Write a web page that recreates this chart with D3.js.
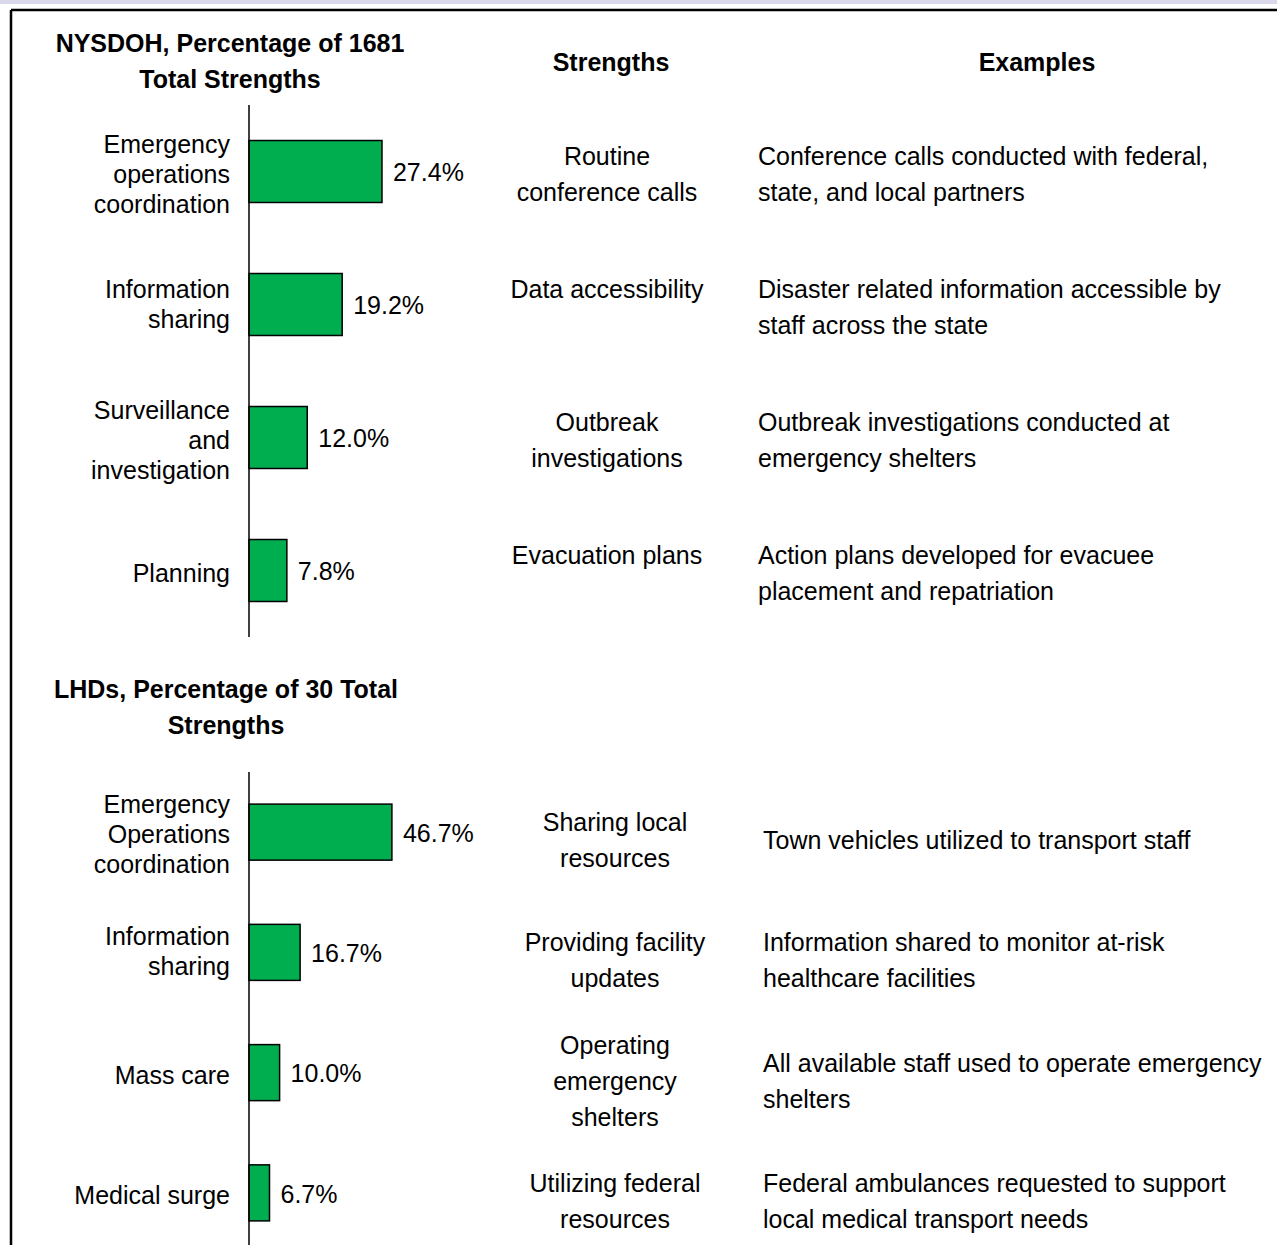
<!DOCTYPE html>
<html>
<head>
<meta charset="utf-8">
<script src="https://cdn.jsdelivr.net/npm/d3@7"></script>
<style>
  body { margin: 0; background: #fff; }
  text { font-family: "Liberation Sans", Arial, Helvetica, sans-serif; fill: #000; }
</style>
</head>
<body>
<div id="chart"></div>
<script>
// NYSDOH panel
var nysTitle = ["NYSDOH, Percentage of 1681", "Total Strengths"];
var nysCategories = ["Emergency\noperations\ncoordination", "Information\nsharing", "Surveillance\nand\ninvestigation", "Planning"];
var nysValues = [27.4, 19.2, 12.0, 7.8];
var nysStrengths = ["Routine\nconference calls", "Data accessibility", "Outbreak\ninvestigations", "Evacuation plans"];
var nysExamples = [
  "Conference calls conducted with federal,\nstate, and local partners",
  "Disaster related information accessible by\nstaff across the state",
  "Outbreak investigations conducted at\nemergency shelters",
  "Action plans developed for evacuee\nplacement and repatriation"
];

// LHD panel
var lhdTitle = ["LHDs, Percentage of 30 Total", "Strengths"];
var lhdCategories = ["Emergency\nOperations\ncoordination", "Information\nsharing", "Mass care", "Medical surge"];
var lhdValues = [46.7, 16.7, 10.0, 6.7];
var lhdStrengths = ["Sharing local\nresources", "Providing facility\nupdates", "Operating\nemergency\nshelters", "Utilizing federal\nresources"];
var lhdExamples = [
  "Town vehicles utilized to transport staff",
  "Information shared to monitor at-risk\nhealthcare facilities",
  "All available staff used to operate emergency\nshelters",
  "Federal ambulances requested to support\nlocal medical transport needs"
];

var columnHeaders = ["Strengths", "Examples"];

var width = 1277, height = 1245;
var axisX = 249;
var fontSize = 25;
var formatPct = function (d) { return d3.format(".1f")(d) + "%"; };

var svg = d3.select("#chart").append("svg")
  .attr("width", width)
  .attr("height", height);

// light band at the very top and the frame
svg.append("rect").attr("x", 0).attr("y", 0).attr("width", width).attr("height", 4)
  .attr("fill", "#d9d8eb");
svg.append("line").attr("x1", 11).attr("x2", width).attr("y1", 10).attr("y2", 10)
  .attr("stroke", "#000").attr("stroke-width", 2.5);
svg.append("line").attr("x1", 11).attr("x2", 11).attr("y1", 10).attr("y2", height)
  .attr("stroke", "#000").attr("stroke-width", 2.5);

// column headers
svg.append("text").attr("x", 611).attr("y", 71)
  .attr("text-anchor", "middle").style("font-size", fontSize + "px").style("font-weight", "bold")
  .text(columnHeaders[0]);
svg.append("text").attr("x", 1037).attr("y", 71)
  .attr("text-anchor", "middle").style("font-size", fontSize + "px").style("font-weight", "bold")
  .text(columnHeaders[1]);

// writes multi-line text, one tspan per line
function multiline(sel, str, x, firstY, step, anchor) {
  var lines = str.split("\n");
  var t = sel.append("text")
    .attr("text-anchor", anchor)
    .style("font-size", fontSize + "px");
  lines.forEach(function (l, i) {
    t.append("tspan").attr("x", x).attr("y", firstY + i * step).text(l);
  });
  return t;
}

function drawPanel(cfg) {
  var g = svg.append("g");

  // title
  cfg.title.forEach(function (l, i) {
    g.append("text")
      .attr("x", cfg.titleX)
      .attr("y", cfg.titleY + i * 36)
      .attr("text-anchor", "middle")
      .style("font-size", fontSize + "px")
      .style("font-weight", "bold")
      .text(l);
  });

  var y = d3.scaleBand()
    .domain(d3.range(cfg.values.length))
    .range(cfg.yRange)
    .paddingInner(0.534)
    .paddingOuter(0.267);

  var x = d3.scaleLinear()
    .domain([0, cfg.xMax])
    .range([axisX, axisX + cfg.xPx]);

  // bars
  g.selectAll(".bar")
    .data(cfg.values)
    .enter().append("rect")
    .attr("class", "bar")
    .attr("x", x(0))
    .attr("y", function (d, i) { return y(i); })
    .attr("width", function (d) { return x(d) - x(0); })
    .attr("height", y.bandwidth())
    .attr("fill", "#00ad4f")
    .attr("stroke", "#000")
    .attr("stroke-width", 1.5);

  // value labels
  g.selectAll(".val")
    .data(cfg.values)
    .enter().append("text")
    .attr("class", "val")
    .attr("x", function (d) { return x(d) + 11; })
    .attr("y", function (d, i) { return y(i) + y.bandwidth() / 2 + 1; })
    .attr("dy", ".35em")
    .style("font-size", fontSize + "px")
    .text(formatPct);

  // axis line (no ticks)
  g.append("line")
    .attr("x1", axisX).attr("x2", axisX)
    .attr("y1", cfg.yRange[0]).attr("y2", cfg.axisEnd)
    .attr("stroke", "#000").attr("stroke-width", 1.5);

  cfg.categories.forEach(function (c, i) {
    var center = y(i) + y.bandwidth() / 2;
    var n = c.split("\n").length;
    var shift = n === 2 ? -3 : 0;
    multiline(g, c, 230, center - (n - 1) / 2 * 30 + 11 + shift, 30, "end");

    // strengths + examples columns
    var ns = cfg.strengths[i].split("\n").length;
    var ne = cfg.examples[i].split("\n").length;
    var sy, ey;
    if (cfg.topAlign) {
      sy = ey = center - 7;
    } else {
      sy = center + 17 - (ns - 1) / 2 * 36;
      ey = center + 17 - (ne - 1) / 2 * 36;
    }
    multiline(g, cfg.strengths[i], cfg.strengthX, sy, 36, "middle");
    multiline(g, cfg.examples[i], cfg.exampleX, ey, 36, "start");
  });
}

drawPanel({
  title: nysTitle, titleX: 230, titleY: 52,
  categories: nysCategories, values: nysValues,
  strengths: nysStrengths, examples: nysExamples,
  yRange: [105, 637], axisEnd: 637,
  xMax: 30, xPx: 145.6,
  strengthX: 607, exampleX: 758, topAlign: true
});

drawPanel({
  title: lhdTitle, titleX: 226, titleY: 698,
  categories: lhdCategories, values: lhdValues,
  strengths: lhdStrengths, examples: lhdExamples,
  yRange: [772, 1253], axisEnd: 1253,
  xMax: 50, xPx: 153,
  strengthX: 615, exampleX: 763, topAlign: false
});
</script>
</body>
</html>
